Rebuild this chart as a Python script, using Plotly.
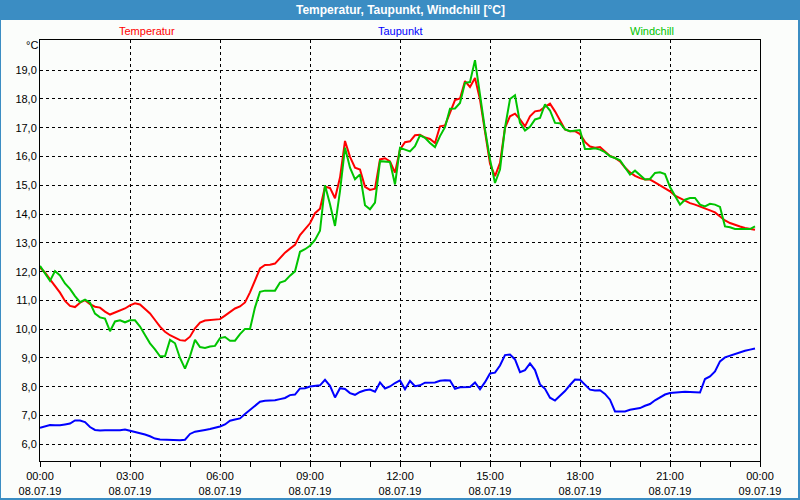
import plotly.graph_objects as go
import pandas as pd

# ---- data (10-minute readings, 08.07.19) ----
temperatur = [
    12.14, 11.97, 11.73, 11.50, 11.27, 10.98, 10.81, 10.77, 10.92, 11.01, 10.87, 10.78, 10.75, 10.61, 10.51, 10.58,
    10.65, 10.72, 10.83, 10.90, 10.86, 10.72, 10.55, 10.32, 10.09, 9.91, 9.79, 9.71, 9.62, 9.60, 9.74, 10.03,
    10.23, 10.30, 10.32, 10.32, 10.35,
    10.47, 10.58, 10.72, 10.79, 10.93, 11.28, 11.68, 12.11, 12.23, 12.24, 12.28, 12.47, 12.66, 12.80, 12.93, 13.27,
    13.47, 13.68, 14.03, 14.19, 14.95, 14.91, 14.55, 15.27, 16.54, 15.99, 15.61, 15.55, 14.95, 14.84, 14.88, 15.90,
    15.94, 15.83, 15.44, 16.25,
    16.50, 16.53, 16.74, 16.76, 16.66, 16.61, 16.47, 17.05, 17.08, 17.54, 17.96, 18.02, 18.62, 18.42, 18.73, 17.98,
    16.94, 15.75, 15.32, 15.78, 17.00, 17.40, 17.49, 17.29, 17.05, 17.40, 17.57, 17.60, 17.73, 17.84, 17.57, 17.23,
    16.94, 16.88, 16.88, 16.78,
    16.51, 16.35, 16.31, 16.33, 16.18, 16.02, 15.95, 15.83, 15.62, 15.45, 15.33, 15.25, 15.20, 15.20, 15.10, 14.99,
    14.88, 14.79, 14.64, 14.56, 14.48, 14.38, 14.33, 14.27, 14.21, 14.13, 14.06, 13.92, 13.78, 13.69, 13.62, 13.57,
    13.52, 13.48, 13.46,
]
windchill = [
    12.20, 11.94, 11.68, 12.02, 11.87, 11.59, 11.40, 11.15, 10.94, 11.03, 10.92, 10.54, 10.41, 10.37, 9.93, 10.27,
    10.31, 10.24, 10.31, 10.31, 10.09, 9.80, 9.51, 9.30, 9.06, 9.06, 9.63, 9.51, 9.00, 8.63, 9.06, 9.63,
    9.38, 9.35, 9.40, 9.42, 9.69,
    9.73, 9.60, 9.60, 9.83, 10.01, 10.01, 10.76, 11.30, 11.34, 11.34, 11.34, 11.62, 11.68, 11.86, 12.01, 12.69,
    12.78, 12.90, 13.10, 13.42, 15.00, 14.34, 13.59, 14.80, 16.31, 15.61, 15.21, 15.38, 14.31, 14.17, 14.40, 15.84,
    15.82, 15.81, 15.03, 16.30,
    16.24, 16.18, 16.36, 16.74, 16.65, 16.47, 16.33, 16.71, 17.02, 17.66, 17.67, 17.86, 18.56, 18.59, 19.35, 18.10,
    16.94, 15.90, 15.08, 15.55, 17.00, 18.00, 18.13, 17.17, 16.90, 17.03, 17.29, 17.34, 17.81, 17.60, 17.17, 17.16,
    16.94, 16.88, 16.90, 16.92,
    16.26, 16.26, 16.29, 16.24, 16.15, 16.01, 15.95, 15.87, 15.62, 15.37, 15.51, 15.37, 15.20, 15.22, 15.43, 15.45,
    15.39, 14.94, 14.62, 14.33, 14.50, 14.56, 14.56, 14.33, 14.27, 14.36, 14.33, 14.25, 13.57, 13.54, 13.48, 13.48,
    13.48, 13.48, 13.57,
]
taupunkt = [
    6.57, 6.63, 6.67, 6.66, 6.66, 6.69, 6.72, 6.83, 6.83, 6.77, 6.60, 6.50, 6.48, 6.49, 6.50, 6.49,
    6.49, 6.51, 6.47, 6.43, 6.40, 6.34, 6.28, 6.20, 6.17, 6.16, 6.15, 6.14, 6.14, 6.16, 6.36, 6.44,
    6.48, 6.50, 6.53, 6.57, 6.62,
    6.69, 6.82, 6.86, 6.90, 7.05, 7.20, 7.35, 7.48, 7.51, 7.51, 7.53, 7.57, 7.61, 7.71, 7.73, 7.94,
    7.95, 8.01, 8.02, 8.05, 8.24, 8.03, 7.63, 7.95, 7.92, 7.78, 7.72, 7.82, 7.88, 7.90, 7.83, 8.15,
    7.94, 8.01, 8.13, 8.22,
    7.91, 8.20, 8.02, 8.05, 8.14, 8.14, 8.15, 8.21, 8.23, 8.22, 7.93, 7.98, 7.99, 7.99, 8.15, 7.91,
    8.16, 8.46, 8.49, 8.74, 9.10, 9.12, 8.95, 8.51, 8.58, 8.81, 8.58, 8.08, 7.93, 7.62, 7.52, 7.68,
    7.85, 8.06, 8.25, 8.24,
    8.06, 7.90, 7.87, 7.88, 7.75, 7.55, 7.14, 7.14, 7.14, 7.20, 7.24, 7.26, 7.34, 7.40, 7.53, 7.64,
    7.73, 7.78, 7.80, 7.80, 7.83, 7.82, 7.80, 7.80, 8.27, 8.36, 8.53, 8.88, 9.02, 9.08, 9.13, 9.19,
    9.25, 9.29, 9.33,
]
times = pd.date_range("2019-07-08 00:00", periods=len(temperatur), freq="10min")

tick_times = pd.date_range("2019-07-08 00:00", "2019-07-09 00:00", freq="3h")
tick_labels = [f"{t:%H:%M}<br>{t:%d.%m.%y}" for t in tick_times]
y_ticks = list(range(6, 20))
y_labels = [f"{v},0" for v in y_ticks]

series_names = ["Temperatur", "Taupunkt", "Windchill"]
series_colors = ["#ff0000", "#0000ff", "#00c400"]
title_text = "Temperatur, Taupunkt, Windchill [°C]"

W, H = 800, 500
L, R, T, B = 40, 40, 40, 39
pw, ph = W - L - R, H - T - B

def px_x(x):
    return (x - L) / pw

def px_y(y):
    return (H - B - y) / ph

FONT = "Liberation Sans, Arial, sans-serif"

fig = go.Figure()
for name, vals, col in zip(series_names, [temperatur, taupunkt, windchill], series_colors):
    fig.add_trace(go.Scatter(x=times, y=vals, mode="lines", name=name,
                             line=dict(color=col, width=2), showlegend=False))

fig.update_layout(
    width=W, height=H,
    margin=dict(l=L, r=R, t=T, b=B, pad=0, autoexpand=False),
    paper_bgcolor="#3b8dc3",
    plot_bgcolor="#fbfdfb",
    font=dict(family=FONT, size=11, color="#000000"),
    showlegend=False,
    shapes=[
        dict(type="rect", xref="paper", yref="paper", layer="below",
             x0=px_x(1), x1=px_x(798), y0=px_y(498), y1=px_y(20),
             fillcolor="#fbfdfb", line=dict(width=0)),
    ],
    annotations=[
        dict(text=f"<b>{title_text}</b>", xref="paper", yref="paper",
             x=px_x(400), y=px_y(10), showarrow=False,
             font=dict(family=FONT, size=12, color="#ffffff"),
             xanchor="center", yanchor="middle"),
        dict(text="°C", xref="paper", yref="paper", x=px_x(32), y=px_y(45),
             showarrow=False, font=dict(family=FONT, size=11, color="#000000"),
             xanchor="center", yanchor="middle"),
    ] + [
        dict(text=n, xref="paper", yref="paper", x=px_x(cx), y=px_y(31), showarrow=False,
             font=dict(family=FONT, size=11, color=c), xanchor="center", yanchor="middle")
        for n, c, cx in zip(series_names, series_colors, [147, 400, 652])
    ],
)

fig.update_xaxes(
    type="date",
    range=[tick_times[0], tick_times[-1]],
    tickvals=list(tick_times), ticktext=tick_labels,
    showgrid=True, gridcolor="#000000", gridwidth=1, griddash="3px,3px",
    showline=True, linecolor="#000000", linewidth=1, mirror=True,
    ticks="outside", ticklen=5, tickcolor="#000000",
    minor=dict(dtick=3600000, ticks="outside", ticklen=5, tickcolor="#000000", showgrid=False),
    tickfont=dict(family=FONT, size=11, color="#000000"),
    zeroline=False, automargin=False,
)
fig.update_yaxes(
    range=[5.42, 20.05],
    tickvals=y_ticks, ticktext=y_labels,
    showgrid=True, gridcolor="#000000", gridwidth=1, griddash="3px,3px",
    showline=True, linecolor="#000000", linewidth=1, mirror=True,
    ticks="", tickfont=dict(family=FONT, size=11, color="#000000"),
    zeroline=False, automargin=False,
)

fig.write_html("out.html", config={"displayModeBar": False},
               post_script="document.body.style.margin='0';document.body.style.overflow='hidden';")
